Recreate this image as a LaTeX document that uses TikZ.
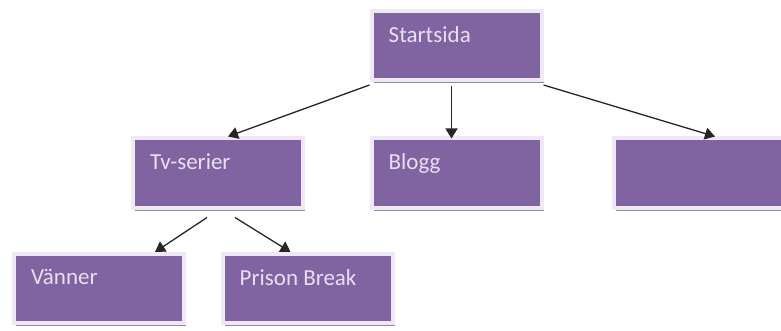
\documentclass[tikz,border=0pt]{standalone}
\usepackage{fontspec}
\setmainfont{Carlito}
\usetikzlibrary{arrows.meta,shadows}
\definecolor{boxpurple}{HTML}{8064A2}
\definecolor{boxrim}{HTML}{F0E8F8}
\definecolor{boxtextcol}{HTML}{E9DFF3}
\begin{document}
\begin{tikzpicture}[x=1pt,y=-1pt,
    box/.style={rectangle, fill=boxpurple, draw=boxrim, line width=4pt,
        minimum width=170pt, minimum height=69pt, inner sep=0pt,
        drop shadow={shadow xshift=2pt, shadow yshift=-3pt, fill=black!55, opacity=0.8}},
    boxtext/.style={anchor=north west, inner sep=0pt, xshift=19pt, yshift=-17pt,
        text=boxtextcol, font=\fontsize{23}{27}\selectfont},
    link/.style={-{Triangle[length=10pt,width=12pt]}, line width=1.3pt, black!85}]
    \useasboundingbox[fill=white] (0,0) rectangle (781,331);
    \node[box, label={[boxtext]north west:Startsida}] (start) at (456.5,45.5) {};
    \node[box, label={[boxtext]north west:Tv-serier}] (tv) at (218,173) {};
    \node[box, label={[boxtext]north west:Blogg}] (blogg) at (456.5,173) {};
    \node[box] (empty) at (699,173) {};
    \node[box, label={[boxtext]north west:Vänner}] (vanner) at (99,288.5) {};
    \node[box, label={[boxtext]north west:Prison Break}] (prison) at (307.5,288.5) {};
    \draw[link] ([yshift=-3pt]start.south west) -- ([xshift=10pt]tv.north);
    \draw[link] ([xshift=-5pt,yshift=-4pt]start.south) -- ([xshift=-5pt,yshift=-2pt]blogg.north);
    \draw[link] ([yshift=-3pt]start.south east) -- ([xshift=16pt]empty.north);
    \draw[link] ([xshift=-11pt,yshift=-8pt]tv.south) -- ([xshift=56pt]vanner.north);
    \draw[link] ([xshift=17pt,yshift=-8pt]tv.south) -- ([xshift=-17pt]prison.north);
\end{tikzpicture}
\end{document}
